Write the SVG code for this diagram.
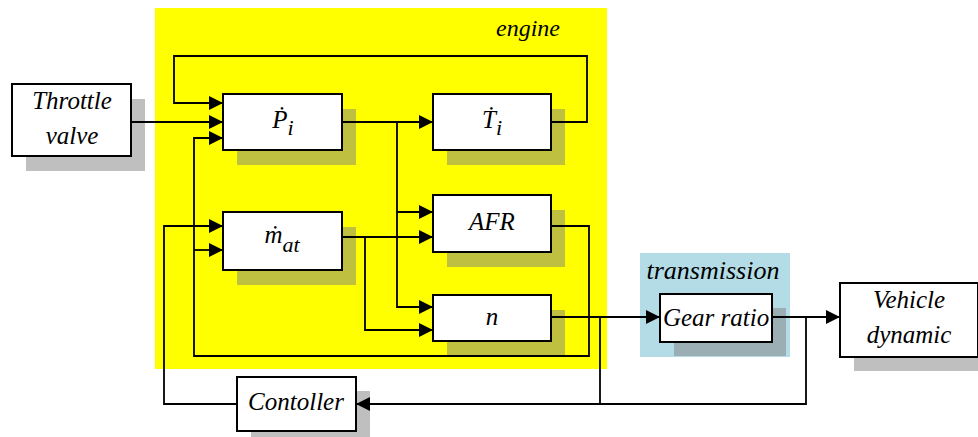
<svg xmlns="http://www.w3.org/2000/svg" width="978" height="437" viewBox="0 0 978 437">
<defs>
<marker id="ah" markerUnits="userSpaceOnUse" viewBox="0 0 14 14" markerWidth="14" markerHeight="14" refX="14" refY="7" orient="auto">
<path d="M0,0 L14,7 L0,14 z" fill="#000"/>
</marker>
</defs>
<rect width="978" height="437" fill="#fff"/>
<g id="engine">
<rect x="155" y="8" width="452" height="361" fill="#ffff00"/>
<text font-family="Liberation Serif" font-style="italic" font-size="24" text-anchor="middle" x="528" y="36">engine</text>
</g>
<g id="transmission">
<rect x="640" y="253" width="150" height="104" fill="#b4dce6"/>
<text font-family="Liberation Serif" font-style="italic" font-size="26" text-anchor="middle" x="713" y="279">transmission</text>
</g>
<g id="throttle">
<rect fill="#808080" fill-opacity="0.5" x="26" y="99" width="119" height="72"/>
<rect fill="#fff" stroke="#000" stroke-width="2" x="12" y="84" width="119" height="72"/>
<text font-family="Liberation Serif" font-style="italic" font-size="25" text-anchor="middle" x="72" y="109">Throttle</text>
<text font-family="Liberation Serif" font-style="italic" font-size="25" text-anchor="middle" x="72" y="144">valve</text>
</g>
<g id="Pi">
<rect fill="#808080" fill-opacity="0.5" x="237" y="109" width="119" height="56"/>
<rect fill="#fff" stroke="#000" stroke-width="2" x="223" y="94" width="119" height="56"/>
<text font-family="Liberation Serif" font-style="italic" font-size="25" text-anchor="middle" x="283" y="128">Ṗ<tspan font-size="22" dy="7">i</tspan></text>
</g>
<g id="Ti">
<rect fill="#808080" fill-opacity="0.5" x="447" y="109" width="118" height="56"/>
<rect fill="#fff" stroke="#000" stroke-width="2" x="433" y="94" width="118" height="56"/>
<text font-family="Liberation Serif" font-style="italic" font-size="25" text-anchor="middle" x="492" y="128">Ṫ<tspan font-size="22" dy="7">i</tspan></text>
</g>
<g id="mat">
<rect fill="#808080" fill-opacity="0.5" x="237" y="227" width="119" height="58"/>
<rect fill="#fff" stroke="#000" stroke-width="2" x="223" y="212" width="119" height="58"/>
<text font-family="Liberation Serif" font-style="italic" font-size="25" text-anchor="middle" x="282" y="243">ṁ<tspan font-size="22" dy="9">at</tspan></text>
</g>
<g id="AFR">
<rect fill="#808080" fill-opacity="0.5" x="447" y="210" width="118" height="57"/>
<rect fill="#fff" stroke="#000" stroke-width="2" x="433" y="195" width="118" height="57"/>
<text font-family="Liberation Serif" font-style="italic" font-size="25" text-anchor="middle" x="492" y="230">AFR</text>
</g>
<g id="n">
<rect fill="#808080" fill-opacity="0.5" x="447" y="310" width="118" height="46"/>
<rect fill="#fff" stroke="#000" stroke-width="2" x="433" y="295" width="118" height="46"/>
<text font-family="Liberation Serif" font-style="italic" font-size="25" text-anchor="middle" x="492" y="325">n</text>
</g>
<g id="gear">
<rect fill="#808080" fill-opacity="0.5" x="674" y="308" width="112" height="48"/>
<rect fill="#fff" stroke="#000" stroke-width="2" x="660" y="294" width="112" height="48"/>
<text font-family="Liberation Serif" font-style="italic" font-size="25" text-anchor="middle" x="716" y="326">Gear ratio</text>
</g>
<g id="vehicle">
<rect fill="#808080" fill-opacity="0.5" x="854" y="297" width="140" height="74"/>
<rect fill="#fff" stroke="#000" stroke-width="2" x="840" y="283" width="138" height="74"/>
<text font-family="Liberation Serif" font-style="italic" font-size="25" text-anchor="middle" x="909" y="308">Vehicle</text>
<text font-family="Liberation Serif" font-style="italic" font-size="25" text-anchor="middle" x="909" y="343">dynamic</text>
</g>
<g id="controller">
<rect fill="#808080" fill-opacity="0.5" x="251" y="391" width="119" height="54"/>
<rect fill="#fff" stroke="#000" stroke-width="2" x="237" y="377" width="119" height="54"/>
<text font-family="Liberation Serif" font-style="italic" font-size="25" text-anchor="middle" x="296" y="410">Contoller</text>
</g>
<g id="connectors" fill="none" stroke="#000" stroke-width="1.8">
<path d="M131,122 H223" marker-end="url(#ah)"/>
<path d="M551,122 H587 V56 H174 V103 H223" marker-end="url(#ah)"/>
<path d="M342,122 H433" marker-end="url(#ah)"/>
<path d="M397,122 V307 H433" marker-end="url(#ah)"/>
<path d="M397,212 H433" marker-end="url(#ah)"/>
<path d="M551,226 H589 V356 H194 V138 H223" marker-end="url(#ah)"/>
<path d="M194,250 H223" marker-end="url(#ah)"/>
<path d="M342,237 H433" marker-end="url(#ah)"/>
<path d="M365,237 V330 H433" marker-end="url(#ah)"/>
<path d="M551,317 H660" marker-end="url(#ah)"/>
<path d="M600,317 V404"/>
<path d="M772,317 H840" marker-end="url(#ah)"/>
<path d="M806,317 V404 H356" marker-end="url(#ah)"/>
<path d="M237,404 H164 V226 H223" marker-end="url(#ah)"/>
</g>
</svg>
